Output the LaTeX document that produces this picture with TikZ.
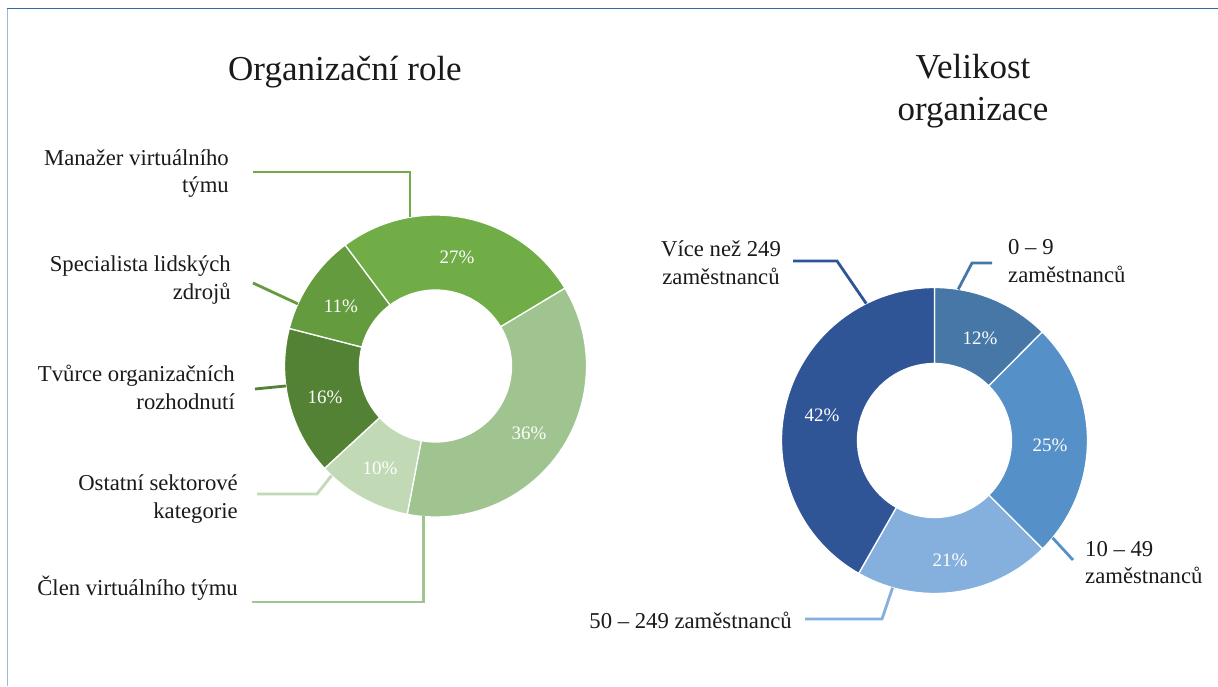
\documentclass[tikz,border=0pt]{standalone}
\usepackage{fontspec}
\setmainfont{Liberation Serif}
\usetikzlibrary{calc}
\definecolor{gA}{HTML}{70AD47}
\definecolor{gB}{HTML}{A0C490}
\definecolor{gC}{HTML}{C2D9B6}
\definecolor{gD}{HTML}{548235}
\definecolor{gE}{HTML}{639B3E}
\definecolor{bA}{HTML}{4677A7}
\definecolor{bB}{HTML}{5590C8}
\definecolor{bC}{HTML}{85AFDC}
\definecolor{bD}{HTML}{2F5597}
\definecolor{txt}{HTML}{1A1A1A}
\definecolor{frameTop}{HTML}{2E6AA8}
\definecolor{frameLeft}{HTML}{9DB9D9}
\tikzset{
  segstyle/.style={draw=white, line width=1.3pt},
  pct/.style={text=white, font=\fontsize{19}{22}\selectfont, inner sep=0pt},
  lbl/.style={text=txt, font=\fontsize{22.7}{27.5}\selectfont, inner sep=0pt},
  ttl/.style={text=txt, font=\fontsize{35}{42}\selectfont, inner sep=0pt, align=center},
  leader/.style={line width=2.8pt, line join=miter}
}
\newcommand\donutseg[6]{%
  \filldraw[segstyle, fill=#6] ($(#1)+(#2:#4)$) arc[start angle=#2, end angle=#3, radius=#4]
    -- ($(#1)+(#3:#5)$) arc[start angle=#3, end angle=#2, radius=#5] -- cycle;}
\begin{document}
\begin{tikzpicture}[x=1pt,y=1pt]
\useasboundingbox (0,0) rectangle (1218,686);
\fill[white] (0,0) rectangle (1218,686);
% frame
\draw[frameLeft, line width=1.2pt] (7.5,0) -- (7.5,677.5);
\draw[frameTop, line width=1.3pt] (7,677.5) -- (1218,677.5);

% ---------- left donut ----------
\coordinate (cL) at (435.5,320);
\donutseg{cL}{126.8}{31}{151}{76}{gA}
\donutseg{cL}{31}{-100.8}{151}{76}{gB}
\donutseg{cL}{-100.8}{-137.3}{151}{76}{gC}
\donutseg{cL}{-137.3}{-194.4}{151}{76}{gD}
\donutseg{cL}{-194.4}{-233.2}{151}{76}{gE}

\node[pct] (p27) at (457,429) {27\%};
\node[pct] (p11) at (341,380) {11\%};
\node[pct] (p16) at (325,289) {16\%};
\node[pct] (p10) at (380,218) {10\%};
\node[pct] (p36) at (529,253) {36\%};

\node[ttl] (tL) at (345,614) {Organizační role};

\node[lbl, anchor=east, align=right] (lMan) at (229,512.5) {Manažer virtuálního\\týmu};
\node[lbl, anchor=east, align=right] (lSpec) at (231,406) {Specialista lidských\\zdrojů};
\node[lbl, anchor=east, align=right] (lTv) at (235,298.5) {Tvůrce organizačních\\rozhodnutí};
\node[lbl, anchor=east, align=right] (lOst) at (238,187) {Ostatní sektorové\\kategorie};
\node[lbl, anchor=east] (lCl) at (238,98) {Člen virtuálního týmu};

\coordinate (sMan) at (253,514);
\coordinate (sSpec) at (253,403);
\coordinate (sTv) at (255,297);
\coordinate (sOst) at (257,192);
\coordinate (sCl) at (252,84);
\coordinate (eMan) at ($(cL)+(99.7:151)$);
\coordinate (eSpec) at ($(cL)+(155.7:151)$);
\coordinate (eTv) at ($(cL)+(-172.4:151)$);
\coordinate (eOst) at ($(cL)+(-133.5:151)$);
\coordinate (eCl) at ($(cL)+(-94.7:151)$);

\draw[leader, gA] (sMan) -- (sMan -| eMan) -- (eMan);
\draw[leader, gE] (sSpec) -- (eSpec);
\draw[leader, gD] (sTv) -- (eTv);
\draw[leader, gC] (sOst) -- (317,192) -- (eOst);
\draw[leader, gB] (sCl) -- (sCl -| eCl) -- (eCl);

% ---------- right donut ----------
\coordinate (cR) at (934.5,245.5);
\donutseg{cR}{90}{45.2}{153}{77}{bA}
\donutseg{cR}{45.2}{-45.1}{153}{77}{bB}
\donutseg{cR}{-45.1}{-119.7}{153}{77}{bC}
\donutseg{cR}{-119.7}{-270}{153}{77}{bD}

\node[pct] (p12) at (980,347.7) {12\%};
\node[pct] (p25) at (1050,241) {25\%};
\node[pct] (p21) at (950,126) {21\%};
\node[pct] (p42) at (822,271) {42\%};

\node[ttl] (tR) at (973,595) {Velikost\\organizace};

\node[lbl, align=center] (lVic) at (721,423.5) {Více než 249\\zaměstnanců};
\node[lbl, anchor=west, align=left] (l09) at (1008,425) {0 – 9\\zaměstnanců};
\node[lbl, anchor=west, align=left] (l1049) at (1085,123.5) {10 – 49\\zaměstnanců};
\node[lbl, anchor=east] (l50) at (792,66) {50 – 249 zaměstnanců};

\coordinate (sVic) at (793,425);
\coordinate (s09) at (992,423);
\coordinate (s1049) at (1073,126);
\coordinate (s50) at (805,67);
\coordinate (eVic) at ($(cR)+(116.5:153)$);
\coordinate (e09) at ($(cR)+(81.1:153)$);
\coordinate (e1049) at ($(cR)+(-39.5:153)$);
\coordinate (e50) at ($(cR)+(-105.9:153)$);

\draw[leader, bD] (sVic) -- (837,425) -- (eVic);
\draw[leader, bA] (s09) -- (972,423) -- (e09);
\draw[leader, bB] (s1049) -- (e1049);
\draw[leader, bC] (s50) -- (882,67) -- (e50);
\end{tikzpicture}
\end{document}
